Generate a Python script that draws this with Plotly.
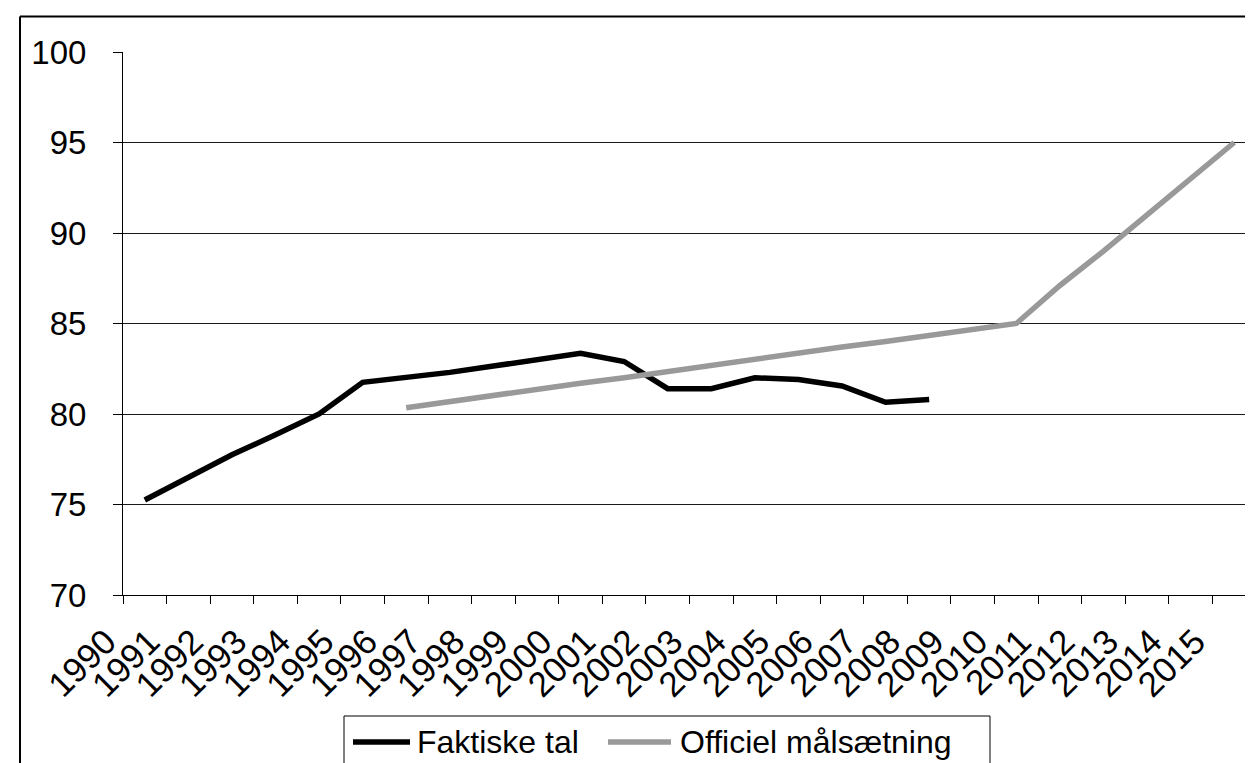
import plotly.graph_objects as go

years = [str(y) for y in range(1990, 2016)]

faktiske_years = [str(y) for y in range(1990, 2009)]
faktiske_vals = [75.25, 76.5, 77.75, 78.85, 80.0, 81.75, 82.0, 82.3, 82.65, 83.0, 83.35,
                 82.9, 81.4, 81.4, 82.0, 81.9, 81.55, 80.65, 80.8]

officiel_years = [str(y) for y in range(1996, 2016)]
officiel_vals = [80.35, 80.7, 81.0, 81.35, 81.7, 82.0, 82.35, 82.7, 83.0, 83.35, 83.7,
                 84.0, 84.35, 84.7, 85.0, 87.1, 89.0, 91.0, 93.0, 95.0]

y_ticks = [70, 75, 80, 85, 90, 95, 100]

series_names = ["Faktiske tal", "Officiel målsætning"]
series_colors = ["#000000", "#999999"]

FONT = "Liberation Sans, Arial, sans-serif"
W, H = 1253, 763
ML, MR, MT, MB = 115, 5, 44, 176
PW, PH = W - ML - MR, H - MT - MB


def px(x):
    return (x - ML) / PW


def py(y):
    return (H - MB - y) / PH


fig = go.Figure()
fig.add_trace(go.Scatter(x=faktiske_years, y=faktiske_vals, mode="lines",
                         name=series_names[0],
                         line=dict(color=series_colors[0], width=5.5)))
fig.add_trace(go.Scatter(x=officiel_years, y=officiel_vals, mode="lines",
                         name=series_names[1],
                         line=dict(color=series_colors[1], width=5.5)))

fig.update_layout(
    width=W, height=H,
    margin=dict(l=ML, r=MR, t=MT, b=MB),
    paper_bgcolor="white", plot_bgcolor="white",
    font=dict(family=FONT, color="black"),
    showlegend=False,
    xaxis=dict(type="category", categoryorder="array", categoryarray=years,
               tickmode="array", tickvals=years, ticktext=years,
               tickson="boundaries", ticks="outside", ticklen=8, tickcolor="black",
               showline=True, linecolor="black", linewidth=1, showgrid=False,
               tickangle=-45, tickfont=dict(size=35, family=FONT),
               ticklabelshift=-39, ticklabelstandoff=11,
               range=[-0.5, 25.5]),
    yaxis=dict(range=[70, 100], tickvals=y_ticks, ticks="outside", ticklen=9,
               tickcolor="black", showline=True, linecolor="black", linewidth=1,
               showgrid=True, gridcolor="#1a1a1a", gridwidth=1, zeroline=False,
               tickfont=dict(size=33, family=FONT), ticklabelstandoff=20),
)

# outer chart frame (left and top edges visible)
fig.add_shape(type="line", xref="paper", yref="paper", x0=px(12), x1=px(12),
              y0=py(8.5), y1=py(800), line=dict(color="black", width=2))
fig.add_shape(type="line", xref="paper", yref="paper", x0=px(12), x1=px(1300),
              y0=py(8.5), y1=py(8.5), line=dict(color="black", width=2))

# legend box drawn by hand
fig.add_shape(type="rect", xref="paper", yref="paper", x0=px(336), x1=px(982),
              y0=py(708), y1=py(759), line=dict(color="black", width=1),
              fillcolor="white")
leg_y = py(734)
fig.add_shape(type="line", xref="paper", yref="paper", x0=px(345), x1=px(402),
              y0=leg_y, y1=leg_y, line=dict(color=series_colors[0], width=5.5))
fig.add_annotation(xref="paper", yref="paper", x=px(407), y=leg_y, text=series_names[0],
                   showarrow=False, xanchor="left", yanchor="middle",
                   font=dict(size=32, family=FONT, color="black"))
fig.add_shape(type="line", xref="paper", yref="paper", x0=px(600), x1=px(663),
              y0=leg_y, y1=leg_y, line=dict(color=series_colors[1], width=5.5))
fig.add_annotation(xref="paper", yref="paper", x=px(670), y=leg_y, text=series_names[1],
                   showarrow=False, xanchor="left", yanchor="middle",
                   font=dict(size=32, family=FONT, color="black"))

fig.write_html("out.html")
